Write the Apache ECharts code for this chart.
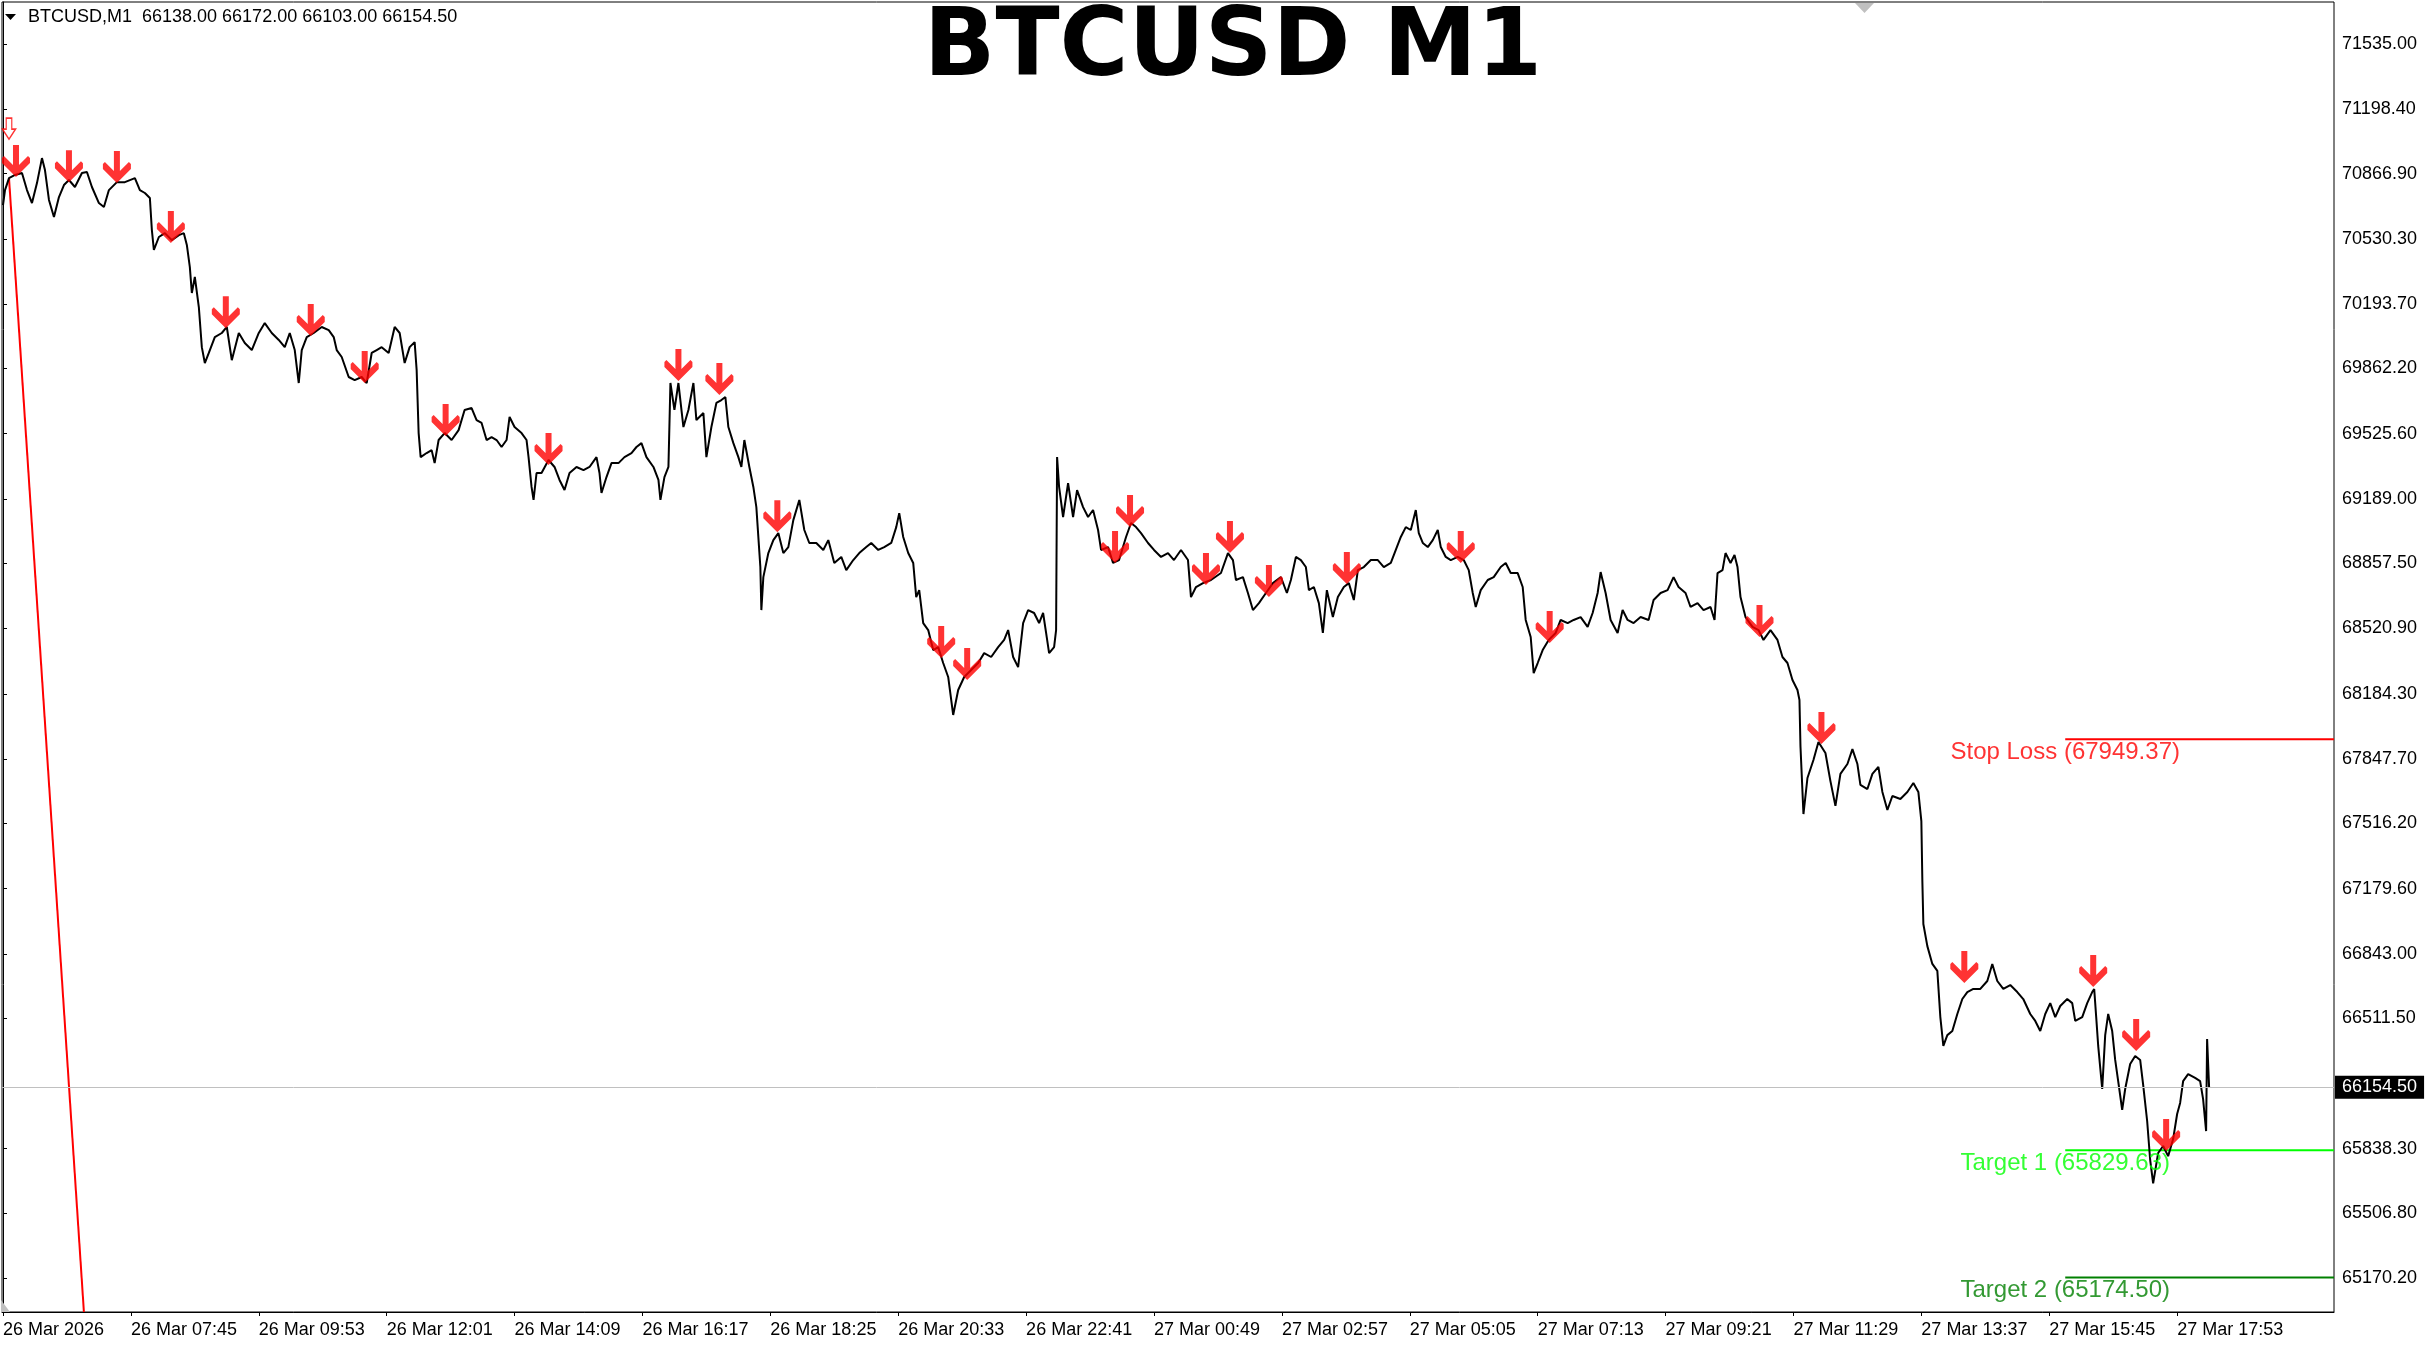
<!DOCTYPE html>
<html>
<head>
<meta charset="utf-8">
<script src="https://cdn.jsdelivr.net/npm/echarts@6/dist/echarts.min.js"></script>
<style>
html,body{margin:0;padding:0;background:#fff;}
#c{width:2435px;height:1346px;}
</style>
</head>
<body>
<div id="c"></div>
<script>
// ---- DATA (minutes since 26 Mar 05:37, close prices) ----
const minutes = [
0,2,6,12,19,24,29,34,39,42, 46,51,56,61,66,72,79,84,89,96,
101,106,114,122,132,137,142,147,149,151, 156,162,169,176,181,184,187,189,192,196,
199,202,206,212,219,224,229,236,242,249, 256,262,269,276,282,287,292,296,299,304,
311,319,326,331,334,339,346,352,359,364, 369,374,379,386,392,397,402,407,412,414,
416,418,
424,429,432,436,442,449,456,462,469,474, 479,484,489,494,499,504,507,512,519,524,
526,529,531,534,539,546,552,557,562,567, 574,581,587,594,597,599,604,609,616,622,
629,634,639,644,651,656,658,662,666,668, 672,676,681,686,691,694,701,704,709,714,
719,723,726,731,736,739,742,747,751,754, 758,759,761,766,771,776,781,786,791,797,
802,807,814,821,826,832,839,844,851,857, 864,869,876,882,889,894,897,901,906,911,
914,917,921,926,931,936,941,946,951,956, 962,969,976,982,989,996,1002,1006,1011,1016,
1021,1026,1032,1037,1041,1044,1047,1052,1054,1055, 1057,1061,1066,1071,1075,1081,1086,1091,1096,1099,
1106,1111,1117,1124,1129,1134,1139,1146,1152,1159, 1166,1172,1179,1186,1189,1194,1201,1209,
1219,1226,1231,1234,1241,1246,1251,1257,1264,1271, 1279,1285,1289,1294,1299,1304,1307,1312,1317,1321,
1325,1331,1336,1342,1347,1352,1356,1362,1369,1376, 1382,1389,1394,1399,1404,1409,1414,1417,1421,1426,
1431,1436,1439,1444,1449,1456,1462,1467,1471,1474, 1479,1486,1492,1499,1504,1509,1516,1521,1524,1529,
1532,1536,1541,1547,1554,1559,1566,1572,1579,1586, 1591,1596,1599,
1604,1609,1616,1621,1626,1632,1639,1647,1652,1659, 1666,1672,1677,1684,1689,1696,1702,1709,1713,1716,
1721,1724,1729,1733,1736,1739,1744,1751,1757,1762, 1769,1776,1781,1786,1791,1796,1798,
1799,1802,1806,1812,1817,1824,1829,1834,1839,1846, 1851,1856,1859,1866,1871,1877,1881,1886,1891,1899,
1906,1912,1917,1920,1921,1922,1926,1931,1936,1939, 1942,1946,1951,1956,1961,1966,1972,1979,1986,1991,
1996,2002,2009,2016,2022,2029,2034,2039,2044,2049, 2054,2059,2066,2071,2074,2081,2086,2091,2093,2095,
2097,2101,2104,2107,2111,2114,2117,2121,2124,2129, 2134,2139,2142,2146,2149,2152,2157,2162,2167,2172,
2176,2179,2182,2187,2194,2199,2202,2205,2206,2208
];
const prices = [
70705,70782,70844,70860,70870,70782,70715,70818,70947,70885, 70731,70643,70746,70808,70834,70798,70870,70875,70798,70715,
70695,70782,70823,70823,70844,70782,70767,70741,70576,70473, 70540,70560,70524,70550,70560,70499,70385,70251,70334,70179,
69972,69890,69942,70024,70045,70076,69905,70045,69993,69957, 70045,70096,70045,70009,69972,70045,69957,69787,69957,70024,
70045,70076,70060,70024,69957,69921,69818,69802,69818,69787, 69942,69957,69972,69942,70076,70045,69890,69972,69998,69854,
69529,69405,
69426,69441,69374,69493,69529,69493,69544,69648,69658,69596, 69581,69493,69508,69493,69457,69493,69612,69560,69529,69493,
69405,69251,69184,69323,69323,69390,69354,69287,69235,69323, 69354,69338,69354,69405,69323,69220,69302,69374,69374,69405,
69426,69457,69477,69405,69354,69287,69184,69302,69354,69787, 69648,69787,69560,69648,69787,69596,69632,69405,69560,69684,
69699,69715,69560,69477,69405,69354,69493,69354,69251,69147, 68838,68616,68786,68910,68977,69013,68910,68941,69080,69184,
69029,68962,68962,68926,68977,68859,68890,68822,68874,68910, 68941,68962,68926,68941,68962,69044,69116,68993,68910,68859,
68683,68719,68549,68513,68410,68425,68343,68271,68075,68204, 68271,68307,68343,68394,68374,68425,68462,68513,68374,68322,
68549,68616,68601,68549,68601,68498,68394,68425,68513,69405, 69251,69096,69271,69096,69235,69147,69096,69132,69029,68926,
68941,68859,68874,68993,69065,69044,69013,68962,68926,68890, 68910,68874,68926,68874,68683,68735,68755,68771,
68807,68910,68874,68771,68786,68704,68616,68652,68704,68755, 68786,68704,68771,68890,68874,68838,68719,68735,68652,68498,
68719,68580,68683,68735,68755,68668,68822,68838,68874,68874, 68838,68859,68926,68993,69044,69029,69132,69013,68962,68941,
68977,69029,68941,68890,68874,68890,68874,68822,68704,68632, 68719,68771,68786,68838,68859,68807,68807,68735,68565,68477,
68291,68343,68410,68462,68498,68565,68549,68565,68580,68529, 68601,68704,68812,
68704,68565,68498,68616,68565,68549,68580,68565,68668,68704, 68719,68786,68735,68704,68632,68652,68616,68632,68565,68807,
68822,68910,68859,68900,68838,68683,68580,68529,68513,68462, 68513,68462,68374,68343,68255,68204,68152,
67915,67564,67750,67843,67936,67879,67734,67606,67771,67822, 67899,67822,67714,67693,67771,67807,67678,67585,67657,67642,
67678,67724,67678,67528,67219,66997,66883,66791,66755,66517, 66368,66424,66445,66533,66610,66646,66662,66662,66703,66791,
66703,66662,66682,66646,66610,66533,66497,66445,66533,66589, 66517,66574,66610,66589,66497,66517,66589,66646,66662,66517,
66368,66146,66424,66533,66445,66296,66187,66038,66146,66275, 66316,66296,66167,65981,65780,65660,65816,65852,65800,65888,
66017,66074,66187,66223,66203,66187,66094,65929,66404,66154.5
];

// sell signal arrows (tip at price)
const signalMinutes = [13,66,114,168,223,308,362,443,546,676,717,775,939,965,1113,1128,1204,1228,1267,1345,1459,1548,1758,1820,1963,2092,2135,2165];
const signalPrices  = [70849,70823,70818,70509,70070,70029,69787,69514,69364,69797,69725,69018,68369,68255,68859,69044,68745,68910,68683,68750,68859,68446,68477,67925,66693,66672,66342,65826];
const firstSignalMinute = 6;
const firstSignalPrice = 71045;

// trend line (red)
const trendMinutes = [6, 81];
const trendPrices = [70844, 64996];

// levels
const levelNames = ['Stop Loss', 'Target 1', 'Target 2'];
const levelValues = [67949.37, 65829.63, 65174.50];
const levelColors = ['#ff0000', '#00ff00', '#008000'];
const levelStartMinute = 2064;

// header
const symbolName = 'BTCUSD';
const timeframe = 'M1';
const ohlc = [66138.00, 66172.00, 66103.00, 66154.50];
const lastPrice = 66154.50;

// axis ticks
const xTickMinutes = [0,128,256,384,512,640,768,896,1024,1152,1280,1408,1536,1664,1792,1920,2048,2176];
const xTickLabels = ['26 Mar 2026','26 Mar 07:45','26 Mar 09:53','26 Mar 12:01','26 Mar 14:09','26 Mar 16:17','26 Mar 18:25','26 Mar 20:33','26 Mar 22:41','27 Mar 00:49','27 Mar 02:57','27 Mar 05:05','27 Mar 07:13','27 Mar 09:21','27 Mar 11:29','27 Mar 13:37','27 Mar 15:45','27 Mar 17:53'];
const yTickValues = [71535.00,71198.40,70866.90,70530.30,70193.70,69862.20,69525.60,69189.00,68857.50,68520.90,68184.30,67847.70,67516.20,67179.60,66843.00,66511.50,65838.30,65506.80,65170.20];

// ---- CHART ----
const FONT = '"Liberation Sans", Arial, sans-serif';
const arrowPath = 'path://M11,0 L17,0 L17,20 L26,11 L28,13 L28,18 L14,32 L0,18 L0,13 L2,11 L11,20 Z';
const hollowArrowPath = 'path://M4,0 L10,0 L10,11 L14,11 L7,21 L0,11 L4,11 Z';

const chart = echarts.init(document.getElementById('c'), null, {renderer: 'canvas'});

const levelSeries = levelValues.map((v, i) => ({
  type: 'line',
  name: levelNames[i],
  data: [[levelStartMinute, v], [2333, v]],
  symbol: 'none',
  lineStyle: {color: levelColors[i], width: 2},
  z: 2,
  silent: true
}));

const option = {
  animation: false,
  backgroundColor: '#ffffff',
  grid: {left: 0, top: 2, width: 2334, height: 1310, show: true, borderColor: '#000', borderWidth: 1, backgroundColor: 'transparent'},
  xAxis: {
    type: 'value', min: -1, max: 2333,
    axisLine: {show: true, lineStyle: {color: '#000', width: 1}},
    axisTick: {show: true, customValues: xTickMinutes, length: 4, lineStyle: {color: '#000'}},
    axisLabel: {
      customValues: xTickMinutes,
      formatter: v => xTickLabels[xTickMinutes.indexOf(v)] || '',
      align: 'left', margin: 9, fontFamily: FONT, fontSize: 18, color: '#000'
    },
    splitLine: {show: false}
  },
  yAxis: {
    type: 'value', position: 'right', min: 64996, max: 71752,
    axisLine: {show: true, lineStyle: {color: '#000', width: 1}},
    axisTick: {show: true, customValues: yTickValues, length: 4, lineStyle: {color: '#000'}},
    axisLabel: {
      customValues: yTickValues,
      formatter: v => v.toFixed(2),
      align: 'left', margin: 8, fontFamily: FONT, fontSize: 18, color: '#000',
      padding: [3, 0, 0, 0]
    },
    splitLine: {show: false}
  },
  series: [
    {
      type: 'line', name: 'Bid', data: [], symbol: 'none', z: 1, silent: true,
      markLine: {
        silent: true, symbol: ['none', 'none'], animation: false,
        data: [{yAxis: lastPrice}],
        lineStyle: {color: '#c0c0c0', width: 1, type: 'solid'},
        label: {
          show: true, position: 'end', distance: 1,
          formatter: lastPrice.toFixed(2),
          backgroundColor: '#000', color: '#fff', padding: [3, 7, 2, 7],
          fontFamily: FONT, fontSize: 18
        }
      }
    },
    ...levelSeries,
    {
      type: 'line', name: 'Trend', data: trendMinutes.map((m, i) => [m, trendPrices[i]]),
      symbol: 'none', lineStyle: {color: '#ff0000', width: 2}, z: 2, silent: true
    },
    {
      type: 'line', name: 'BTCUSD', data: minutes.map((m, i) => [m, prices[i]]),
      symbol: 'none', showSymbol: false, lineStyle: {color: '#000', width: 2}, z: 3, silent: true
    },
    {
      type: 'scatter', name: 'Levels',
      data: levelValues.map((v, i) => ({value: [levelStartMinute, v], label: {color: levelColors[i]}})),
      symbolSize: 0, z: 4, silent: true,
      label: {
        show: true, position: 'bottom', distance: 1,
        fontFamily: FONT, fontSize: 24,
        formatter: p => levelNames[p.dataIndex] + ' (' + levelValues[p.dataIndex].toFixed(2) + ')'
      }
    },
    {
      type: 'scatter', name: 'Sell',
      data: signalMinutes.map((m, i) => [m, signalPrices[i]]),
      symbol: arrowPath, symbolSize: [28, 32], symbolOffset: [0, -16],
      itemStyle: {color: '#ff0000'}, z: 5, silent: true
    },
    {
      type: 'scatter', name: 'First',
      data: [[firstSignalMinute, firstSignalPrice]],
      symbol: hollowArrowPath, symbolSize: [13, 21], symbolOffset: [0, -10.5],
      itemStyle: {color: '#ffffff', borderColor: '#ff0000', borderWidth: 1.5}, z: 5, silent: true
    }
  ],
  graphic: [
    {type: 'text', x: 1233, y: 51, z: 10,
      style: {text: symbolName + ' ' + timeframe, fontFamily: '"DejaVu Sans", sans-serif', fontWeight: 'bold', fontSize: 94, fill: '#000', align: 'center', verticalAlign: 'middle'}},
    {type: 'polygon', z: 10, shape: {points: [[5, 14], [16, 14], [10.5, 20]]}, style: {fill: '#000'}},
    {type: 'text', x: 28, y: 17, z: 10,
      style: {text: symbolName + ',' + timeframe + '  ' + ohlc.map(v => v.toFixed(2)).join(' '), fontFamily: FONT, fontSize: 18, fill: '#000', align: 'left', verticalAlign: 'middle'}},
    {type: 'polygon', z: 10, shape: {points: [[1855, 3], [1874, 3], [1864.5, 13]]}, style: {fill: '#c0c0c0'}},
    {type: 'polygon', z: 10, shape: {points: [[1, 1300], [1, 1312], [10, 1312]]}, style: {fill: '#c0c0c0'}}
  ]
};
chart.setOption(option);
</script>
</body>
</html>
